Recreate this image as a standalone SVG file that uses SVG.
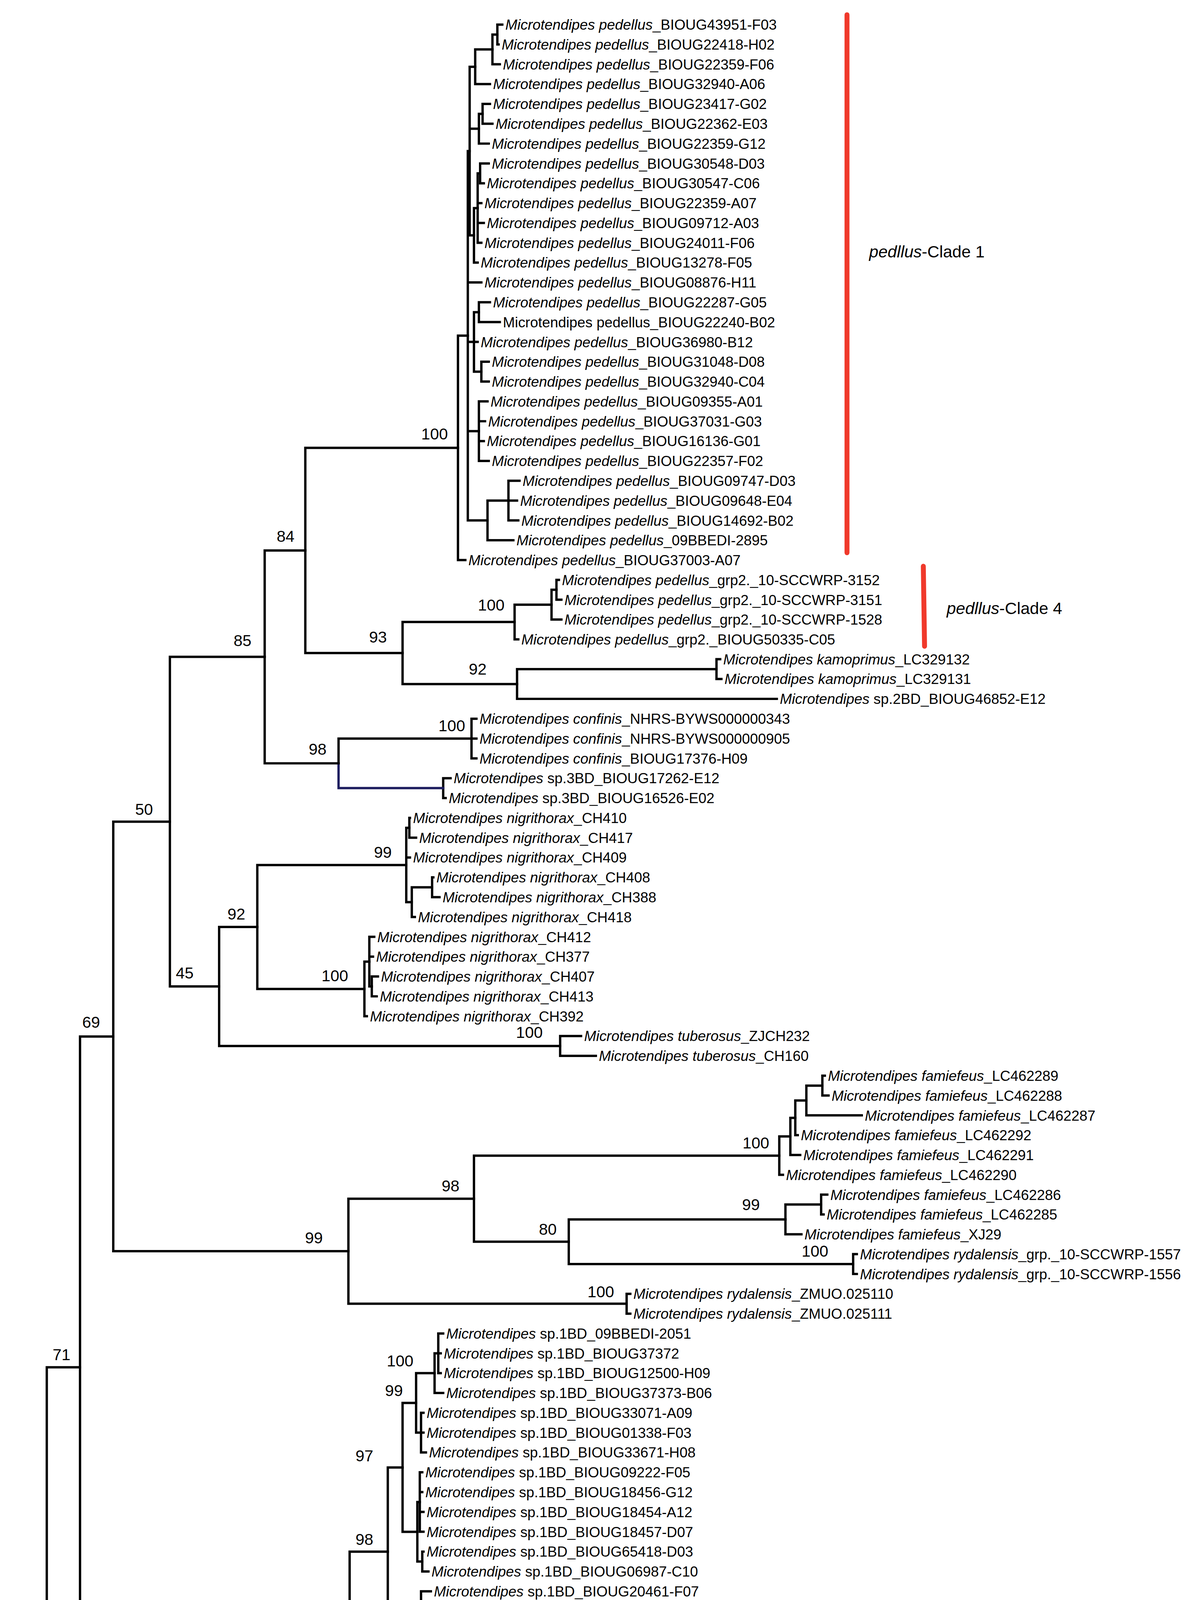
<svg xmlns="http://www.w3.org/2000/svg" width="3041" height="4945" viewBox="0 0 3041 4945">
<style>
.e{fill:none;stroke:#000;stroke-width:1.9;stroke-linecap:square}
.nv{fill:none;stroke:#1c1c5e;stroke-width:1.9;stroke-linecap:square}
.l{font-family:"Liberation Sans",Arial,sans-serif;font-size:11.7px;fill:#000}
.i{font-style:italic}
.s{font-family:"Liberation Sans",Arial,sans-serif;font-size:13px;fill:#000;text-anchor:middle}
.c{font-family:"Liberation Sans",Arial,sans-serif;font-size:13.5px;fill:#000}
.bar{stroke:#f0392b;stroke-width:4;stroke-linecap:round}
</style>
<rect width="3041" height="4945" fill="#fff"/>
<g transform="scale(3.1513)">
<g id="connectors">
<path class="e" d="M404,20V36.11M404,20H408M404,36.11H405"/>
<path class="e" d="M400,28.06V52.22M400,28.06H404M400,52.22H406"/>
<path class="e" d="M386,40.14V68.33M386,40.14H400M386,68.33H398"/>
<path class="e" d="M392,84.44V100.55M392,84.44H398M392,100.55H400"/>
<path class="e" d="M389,92.5V116.66M389,92.5H392M389,116.66H397"/>
<path class="e" d="M390,132.77V148.88M390,132.77H397M390,148.88H393"/>
<path class="e" d="M388,140.83V197.21M388,140.83H390M388,164.99H391M388,181.1H393M388,197.21H391"/>
<path class="e" d="M385,169.02V213.32M385,169.02H388M385,213.32H388"/>
<path class="e" d="M381.5,54.24V191.17M381.5,54.24H386M381.5,104.58H389M381.5,191.17H385"/>
<path class="e" d="M389,245.54V261.65M389,245.54H398M389,261.65H406"/>
<path class="e" d="M391,293.87V309.98M391,293.87H397M391,309.98H397"/>
<path class="e" d="M385,253.6V301.93M385,253.6H389M385,277.76H388M385,301.93H391"/>
<path class="e" d="M389,326.09V374.42M389,326.09H396M389,342.2H394M389,358.31H393M389,374.42H397"/>
<path class="e" d="M413,390.53V422.75M413,390.53H422M413,406.64H420M413,422.75H421"/>
<path class="e" d="M396,406.64V438.86M396,406.64H413M396,438.86H417"/>
<path class="e" d="M380,122.7V422.75M380,122.7H381.5M380,229.43H391M380,277.76H385M380,350.26H389M380,422.75H396"/>
<path class="e" d="M372,272.7V454.97M372,272.7H380M372,454.97H378"/>
<path class="e" d="M452,471.08V487.19M452,471.08H454M452,487.19H456"/>
<path class="e" d="M448,479.1V503.3M448,479.1H452M448,503.3H456"/>
<path class="e" d="M418,491.2V519.41M418,491.2H448M418,519.41H421"/>
<path class="e" d="M582,535.52V551.63M582,535.52H585M582,551.63H586"/>
<path class="e" d="M420,543.6V567.74M420,543.6H582M420,567.74H631"/>
<path class="e" d="M327,505.3V555.7M327,505.3H418M327,555.7H420"/>
<path class="e" d="M248,363.8V530.5M248,363.8H372M248,530.5H327"/>
<path class="e" d="M383,583.85V616.07M383,583.85H387M383,599.96H387M383,616.07H387"/>
<path class="e" d="M360,632.18V648.29M360,632.18H366M360,648.29H362"/>
<path class="e" d="M275,599.96V620.1M275,599.96H383"/>
<path class="nv" d="M275,620.1V640.2H360"/>
<path class="e" d="M215,447.2V620.1M215,447.2H248M215,620.1H275"/>
<path class="e" d="M332.5,664.4V680.51M332.5,664.4H333M332.5,680.51H338"/>
<path class="e" d="M351,712.73V728.84M351,712.73H352M351,728.84H357"/>
<path class="e" d="M334.5,720.8V744.95M334.5,720.8H351M334.5,744.95H337"/>
<path class="e" d="M330,672.5V732.9M330,672.5H332.5M330,696.62H333M330,732.9H334.5"/>
<path class="e" d="M302,793.28V809.39M302,793.28H307M302,809.39H306"/>
<path class="e" d="M300,761.06V801.3M300,761.06H304M300,777.17H303M300,801.3H302"/>
<path class="e" d="M296,781.2V825.5M296,781.2H300M296,825.5H298"/>
<path class="e" d="M209,702.7V803.4M209,702.7H330M209,803.4H296"/>
<path class="e" d="M455,841.61V857.72M455,841.61H472M455,857.72H484"/>
<path class="e" d="M178,753V849.7M178,753H209M178,849.7H455"/>
<path class="e" d="M138,533.6V801.3M138,533.6H215M138,801.3H178"/>
<path class="e" d="M668,873.83V889.94M668,873.83H670M668,889.94H673"/>
<path class="e" d="M655,881.9V906.05M655,881.9H668M655,906.05H700"/>
<path class="e" d="M646,894V922.16M646,894H655M646,922.16H648"/>
<path class="e" d="M642,908.1V938.27M642,908.1H646M642,938.27H650"/>
<path class="e" d="M633,923.2V954.38M633,923.2H642M633,954.38H636"/>
<path class="e" d="M667,970.49V986.6M667,970.49H672M667,986.6H669"/>
<path class="e" d="M638,978.5V1002.71M638,978.5H667M638,1002.71H651"/>
<path class="e" d="M693,1018.82V1034.93M693,1018.82H696M693,1034.93H696"/>
<path class="e" d="M462,990.6V1026.9M462,990.6H638M462,1026.9H693"/>
<path class="e" d="M385,938.8V1008.7M385,938.8H633M385,1008.7H462"/>
<path class="e" d="M509,1051.04V1067.15M509,1051.04H512M509,1067.15H512"/>
<path class="e" d="M283,973.8V1059.1M283,973.8H385M283,1059.1H509"/>
<path class="e" d="M92,667.5V1016.4M92,667.5H138M92,1016.4H283"/>
<path class="e" d="M356,1083.26V1115.48M356,1083.26H360M356,1099.37H358M356,1115.48H358"/>
<path class="e" d="M353,1099.4V1131.59M353,1099.4H356M353,1131.59H360"/>
<path class="e" d="M342,1147.7V1179.92M342,1147.7H344M342,1163.81H344M342,1179.92H346"/>
<path class="e" d="M338,1115.5V1163.8M338,1115.5H353M338,1163.8H342"/>
<path class="e" d="M341,1196.03V1244.36M341,1196.03H343M341,1212.14H343M341,1228.25H344M341,1244.36H344"/>
<path class="e" d="M343,1260.47V1276.58M343,1260.47H344M343,1276.58H348"/>
<path class="e" d="M339,1220.2V1268.5M339,1220.2H341M339,1268.5H343"/>
<path class="e" d="M327,1139.7V1244.4M327,1139.7H338M327,1244.4H339"/>
<path class="e" d="M342,1292.69V1324.91M342,1292.69H350M342,1308.8H346M342,1324.91H352"/>
<path class="e" d="M331,1341.02V1357.13M331,1341.02H334M331,1357.13H334"/>
<path class="e" d="M326,1308.8V1349.1M326,1308.8H342M326,1349.1H331"/>
<path class="e" d="M315,1192.1V1329M315,1192.1H327M315,1329H326"/>
<path class="e" d="M284,1260.5V1373.24M284,1260.5H315M284,1373.24H287"/>
<path class="e" d="M278,1316.9V1389.35M278,1316.9H284M278,1389.35H282"/>
<path class="e" d="M233,1353.1V1405.46M233,1353.1H278M233,1405.46H386"/>
<path class="e" d="M65,842V1379.3M65,842H92M65,1379.3H233"/>
<path class="e" d="M258,1421.57V1469.9M258,1421.57H287M258,1437.68H269M258,1453.79H269M258,1469.9H268"/>
<path class="e" d="M256,1445.7V1534.34M256,1445.7H258M256,1486.01H268M256,1502.12H267M256,1518.23H267M256,1534.34H266"/>
<path class="e" d="M232,1490V1550.45M232,1490H256M232,1550.45H261"/>
<path class="e" d="M38,1110.7V1520.2M38,1110.7H65M38,1520.2H232"/>
<path class="e" d="M8,1315.5V1558M8,1315.5H38"/>
</g>
<g id="support">
<text class="s" x="22" y="1310">53</text>
<text class="s" x="50" y="1105">71</text>
<text class="s" x="74" y="835">69</text>
<text class="s" x="117" y="662">50</text>
<text class="s" x="197" y="525">85</text>
<text class="s" x="232" y="440">84</text>
<text class="s" x="353" y="357">100</text>
<text class="s" x="307" y="522">93</text>
<text class="s" x="399" y="496">100</text>
<text class="s" x="388" y="548">92</text>
<text class="s" x="367" y="594">100</text>
<text class="s" x="258" y="613">98</text>
<text class="s" x="311" y="697">99</text>
<text class="s" x="192" y="747">92</text>
<text class="s" x="272" y="797">100</text>
<text class="s" x="150" y="795">45</text>
<text class="s" x="430" y="843">100</text>
<text class="s" x="614" y="933">100</text>
<text class="s" x="366" y="968">98</text>
<text class="s" x="610" y="983">99</text>
<text class="s" x="445" y="1003">80</text>
<text class="s" x="255" y="1010">99</text>
<text class="s" x="662" y="1021">100</text>
<text class="s" x="488" y="1054">100</text>
<text class="s" x="325" y="1110">100</text>
<text class="s" x="320" y="1134">99</text>
<text class="s" x="296" y="1187">97</text>
<text class="s" x="296" y="1255">98</text>
<text class="s" x="267" y="1310">92</text>
<text class="s" x="256" y="1346">98</text>
<text class="s" x="210" y="1373">100</text>
<text class="s" x="217" y="1515">100</text>
</g>
<g id="clade-bars">
<line class="bar" x1="688" y1="12" x2="688" y2="449"/>
<line class="bar" x1="750" y1="460" x2="751" y2="525"/>
<text class="c" x="706" y="209"><tspan class="i">pedllus</tspan>-Clade 1</text>
<text class="c" x="769" y="499"><tspan class="i">pedllus</tspan>-Clade 4</text>
</g>
<g id="leaves">
<g id="L0"><text class="l" x="410.5" y="24.2"><tspan class="i">Microtendipes pedellus</tspan>_BIOUG43951-F03</text></g>
<g id="L1"><text class="l" x="407.5" y="40.3"><tspan class="i">Microtendipes pedellus</tspan>_BIOUG22418-H02</text></g>
<g id="L2"><text class="l" x="408.5" y="56.4"><tspan class="i">Microtendipes pedellus</tspan>_BIOUG22359-F06</text></g>
<g id="L3"><text class="l" x="400.5" y="72.5"><tspan class="i">Microtendipes pedellus</tspan>_BIOUG32940-A06</text></g>
<g id="L4"><text class="l" x="400.5" y="88.6"><tspan class="i">Microtendipes pedellus</tspan>_BIOUG23417-G02</text></g>
<g id="L5"><text class="l" x="402.5" y="104.8"><tspan class="i">Microtendipes pedellus</tspan>_BIOUG22362-E03</text></g>
<g id="L6"><text class="l" x="399.5" y="120.9"><tspan class="i">Microtendipes pedellus</tspan>_BIOUG22359-G12</text></g>
<g id="L7"><text class="l" x="399.5" y="137"><tspan class="i">Microtendipes pedellus</tspan>_BIOUG30548-D03</text></g>
<g id="L8"><text class="l" x="395.5" y="153.1"><tspan class="i">Microtendipes pedellus</tspan>_BIOUG30547-C06</text></g>
<g id="L9"><text class="l" x="393.5" y="169.2"><tspan class="i">Microtendipes pedellus</tspan>_BIOUG22359-A07</text></g>
<g id="L10"><text class="l" x="395.5" y="185.3"><tspan class="i">Microtendipes pedellus</tspan>_BIOUG09712-A03</text></g>
<g id="L11"><text class="l" x="393.5" y="201.4"><tspan class="i">Microtendipes pedellus</tspan>_BIOUG24011-F06</text></g>
<g id="L12"><text class="l" x="390.5" y="217.5"><tspan class="i">Microtendipes pedellus</tspan>_BIOUG13278-F05</text></g>
<g id="L13"><text class="l" x="393.5" y="233.6"><tspan class="i">Microtendipes pedellus</tspan>_BIOUG08876-H11</text></g>
<g id="L14"><text class="l" x="400.5" y="249.7"><tspan class="i">Microtendipes pedellus</tspan>_BIOUG22287-G05</text></g>
<g id="L15"><text class="l" x="408.5" y="265.9">Microtendipes pedellus_BIOUG22240-B02</text></g>
<g id="L16"><text class="l" x="390.5" y="282"><tspan class="i">Microtendipes pedellus</tspan>_BIOUG36980-B12</text></g>
<g id="L17"><text class="l" x="399.5" y="298.1"><tspan class="i">Microtendipes pedellus</tspan>_BIOUG31048-D08</text></g>
<g id="L18"><text class="l" x="399.5" y="314.2"><tspan class="i">Microtendipes pedellus</tspan>_BIOUG32940-C04</text></g>
<g id="L19"><text class="l" x="398.5" y="330.3"><tspan class="i">Microtendipes pedellus</tspan>_BIOUG09355-A01</text></g>
<g id="L20"><text class="l" x="396.5" y="346.4"><tspan class="i">Microtendipes pedellus</tspan>_BIOUG37031-G03</text></g>
<g id="L21"><text class="l" x="395.5" y="362.5"><tspan class="i">Microtendipes pedellus</tspan>_BIOUG16136-G01</text></g>
<g id="L22"><text class="l" x="399.5" y="378.6"><tspan class="i">Microtendipes pedellus</tspan>_BIOUG22357-F02</text></g>
<g id="L23"><text class="l" x="424.5" y="394.7"><tspan class="i">Microtendipes pedellus</tspan>_BIOUG09747-D03</text></g>
<g id="L24"><text class="l" x="422.5" y="410.8"><tspan class="i">Microtendipes pedellus</tspan>_BIOUG09648-E04</text></g>
<g id="L25"><text class="l" x="423.5" y="427"><tspan class="i">Microtendipes pedellus</tspan>_BIOUG14692-B02</text></g>
<g id="L26"><text class="l" x="419.5" y="443.1"><tspan class="i">Microtendipes pedellus</tspan>_09BBEDI-2895</text></g>
<g id="L27"><text class="l" x="380.5" y="459.2"><tspan class="i">Microtendipes pedellus</tspan>_BIOUG37003-A07</text></g>
<g id="L28"><text class="l" x="456.5" y="475.3"><tspan class="i">Microtendipes pedellus</tspan>_grp2._10-SCCWRP-3152</text></g>
<g id="L29"><text class="l" x="458.5" y="491.4"><tspan class="i">Microtendipes pedellus</tspan>_grp2._10-SCCWRP-3151</text></g>
<g id="L30"><text class="l" x="458.5" y="507.5"><tspan class="i">Microtendipes pedellus</tspan>_grp2._10-SCCWRP-1528</text></g>
<g id="L31"><text class="l" x="423.5" y="523.6"><tspan class="i">Microtendipes pedellus</tspan>_grp2._BIOUG50335-C05</text></g>
<g id="L32"><text class="l" x="587.5" y="539.7"><tspan class="i">Microtendipes kamoprimus</tspan>_LC329132</text></g>
<g id="L33"><text class="l" x="588.5" y="555.8"><tspan class="i">Microtendipes kamoprimus</tspan>_LC329131</text></g>
<g id="L34"><text class="l" x="633.5" y="571.9"><tspan class="i">Microtendipes</tspan> sp.2BD_BIOUG46852-E12</text></g>
<g id="L35"><text class="l" x="389.5" y="588.1"><tspan class="i">Microtendipes confinis</tspan>_NHRS-BYWS000000343</text></g>
<g id="L36"><text class="l" x="389.5" y="604.2"><tspan class="i">Microtendipes confinis</tspan>_NHRS-BYWS000000905</text></g>
<g id="L37"><text class="l" x="389.5" y="620.3"><tspan class="i">Microtendipes confinis</tspan>_BIOUG17376-H09</text></g>
<g id="L38"><text class="l" x="368.5" y="636.4"><tspan class="i">Microtendipes</tspan> sp.3BD_BIOUG17262-E12</text></g>
<g id="L39"><text class="l" x="364.5" y="652.5"><tspan class="i">Microtendipes</tspan> sp.3BD_BIOUG16526-E02</text></g>
<g id="L40"><text class="l" x="335.5" y="668.6"><tspan class="i">Microtendipes nigrithorax</tspan>_CH410</text></g>
<g id="L41"><text class="l" x="340.5" y="684.7"><tspan class="i">Microtendipes nigrithorax</tspan>_CH417</text></g>
<g id="L42"><text class="l" x="335.5" y="700.8"><tspan class="i">Microtendipes nigrithorax</tspan>_CH409</text></g>
<g id="L43"><text class="l" x="354.5" y="716.9"><tspan class="i">Microtendipes nigrithorax</tspan>_CH408</text></g>
<g id="L44"><text class="l" x="359.5" y="733"><tspan class="i">Microtendipes nigrithorax</tspan>_CH388</text></g>
<g id="L45"><text class="l" x="339.5" y="749.2"><tspan class="i">Microtendipes nigrithorax</tspan>_CH418</text></g>
<g id="L46"><text class="l" x="306.5" y="765.3"><tspan class="i">Microtendipes nigrithorax</tspan>_CH412</text></g>
<g id="L47"><text class="l" x="305.5" y="781.4"><tspan class="i">Microtendipes nigrithorax</tspan>_CH377</text></g>
<g id="L48"><text class="l" x="309.5" y="797.5"><tspan class="i">Microtendipes nigrithorax</tspan>_CH407</text></g>
<g id="L49"><text class="l" x="308.5" y="813.6"><tspan class="i">Microtendipes nigrithorax</tspan>_CH413</text></g>
<g id="L50"><text class="l" x="300.5" y="829.7"><tspan class="i">Microtendipes nigrithorax</tspan>_CH392</text></g>
<g id="L51"><text class="l" x="474.5" y="845.8"><tspan class="i">Microtendipes tuberosus</tspan>_ZJCH232</text></g>
<g id="L52"><text class="l" x="486.5" y="861.9"><tspan class="i">Microtendipes tuberosus</tspan>_CH160</text></g>
<g id="L53"><text class="l" x="672.5" y="878"><tspan class="i">Microtendipes famiefeus</tspan>_LC462289</text></g>
<g id="L54"><text class="l" x="675.5" y="894.1"><tspan class="i">Microtendipes famiefeus</tspan>_LC462288</text></g>
<g id="L55"><text class="l" x="702.5" y="910.3"><tspan class="i">Microtendipes famiefeus</tspan>_LC462287</text></g>
<g id="L56"><text class="l" x="650.5" y="926.4"><tspan class="i">Microtendipes famiefeus</tspan>_LC462292</text></g>
<g id="L57"><text class="l" x="652.5" y="942.5"><tspan class="i">Microtendipes famiefeus</tspan>_LC462291</text></g>
<g id="L58"><text class="l" x="638.5" y="958.6"><tspan class="i">Microtendipes famiefeus</tspan>_LC462290</text></g>
<g id="L59"><text class="l" x="674.5" y="974.7"><tspan class="i">Microtendipes famiefeus</tspan>_LC462286</text></g>
<g id="L60"><text class="l" x="671.5" y="990.8"><tspan class="i">Microtendipes famiefeus</tspan>_LC462285</text></g>
<g id="L61"><text class="l" x="653.5" y="1006.9"><tspan class="i">Microtendipes famiefeus</tspan>_XJ29</text></g>
<g id="L62"><text class="l" x="698.5" y="1023"><tspan class="i">Microtendipes rydalensis</tspan>_grp._10-SCCWRP-1557</text></g>
<g id="L63"><text class="l" x="698.5" y="1039.1"><tspan class="i">Microtendipes rydalensis</tspan>_grp._10-SCCWRP-1556</text></g>
<g id="L64"><text class="l" x="514.5" y="1055.2"><tspan class="i">Microtendipes rydalensis</tspan>_ZMUO.025110</text></g>
<g id="L65"><text class="l" x="514.5" y="1071.4"><tspan class="i">Microtendipes rydalensis</tspan>_ZMUO.025111</text></g>
<g id="L66"><text class="l" x="362.5" y="1087.5"><tspan class="i">Microtendipes</tspan> sp.1BD_09BBEDI-2051</text></g>
<g id="L67"><text class="l" x="360.5" y="1103.6"><tspan class="i">Microtendipes</tspan> sp.1BD_BIOUG37372</text></g>
<g id="L68"><text class="l" x="360.5" y="1119.7"><tspan class="i">Microtendipes</tspan> sp.1BD_BIOUG12500-H09</text></g>
<g id="L69"><text class="l" x="362.5" y="1135.8"><tspan class="i">Microtendipes</tspan> sp.1BD_BIOUG37373-B06</text></g>
<g id="L70"><text class="l" x="346.5" y="1151.9"><tspan class="i">Microtendipes</tspan> sp.1BD_BIOUG33071-A09</text></g>
<g id="L71"><text class="l" x="346.5" y="1168"><tspan class="i">Microtendipes</tspan> sp.1BD_BIOUG01338-F03</text></g>
<g id="L72"><text class="l" x="348.5" y="1184.1"><tspan class="i">Microtendipes</tspan> sp.1BD_BIOUG33671-H08</text></g>
<g id="L73"><text class="l" x="345.5" y="1200.2"><tspan class="i">Microtendipes</tspan> sp.1BD_BIOUG09222-F05</text></g>
<g id="L74"><text class="l" x="345.5" y="1216.3"><tspan class="i">Microtendipes</tspan> sp.1BD_BIOUG18456-G12</text></g>
<g id="L75"><text class="l" x="346.5" y="1232.5"><tspan class="i">Microtendipes</tspan> sp.1BD_BIOUG18454-A12</text></g>
<g id="L76"><text class="l" x="346.5" y="1248.6"><tspan class="i">Microtendipes</tspan> sp.1BD_BIOUG18457-D07</text></g>
<g id="L77"><text class="l" x="346.5" y="1264.7"><tspan class="i">Microtendipes</tspan> sp.1BD_BIOUG65418-D03</text></g>
<g id="L78"><text class="l" x="350.5" y="1280.8"><tspan class="i">Microtendipes</tspan> sp.1BD_BIOUG06987-C10</text></g>
<g id="L79"><text class="l" x="352.5" y="1296.9"><tspan class="i">Microtendipes</tspan> sp.1BD_BIOUG20461-F07</text></g>
<g id="L80"><text class="l" x="348.5" y="1313"><tspan class="i">Microtendipes</tspan> sp.1BD_BIOUG34831-D05</text></g>
<g id="L81"><text class="l" x="354.5" y="1329.1"><tspan class="i">Microtendipes</tspan> sp.1BD_BIOUG34663-F07</text></g>
<g id="L82"><text class="l" x="336.5" y="1345.2"><tspan class="i">Microtendipes</tspan> sp.1BD_BIOUG20486-G07</text></g>
<g id="L83"><text class="l" x="336.5" y="1361.3"><tspan class="i">Microtendipes</tspan> sp.1BD_BIOUG03125-E12</text></g>
<g id="L84"><text class="l" x="289.5" y="1377.4"><tspan class="i">Microtendipes</tspan> sp.1BD_BIOUG20460-D05</text></g>
<g id="L85"><text class="l" x="284.5" y="1393.6"><tspan class="i">Microtendipes</tspan> sp.1BDDNAS-49C-6ERW_MT159584</text></g>
<g id="L86"><text class="l" x="388.5" y="1409.7"><tspan class="i">Microtendipes</tspan> sp.1BD_INVSJ16L151</text></g>
<g id="L87"><text class="l" x="289.5" y="1425.8"><tspan class="i">Microtendipes wuyiensis</tspan>_ZJCH382</text></g>
<g id="L88"><text class="l" x="271.5" y="1441.9"><tspan class="i">Microtendipes wuyisensis</tspan>_ZJCH396</text></g>
<g id="L89"><text class="l" x="271.5" y="1458"><tspan class="i">Microtendipes wuyisensis</tspan>_ZJCH259</text></g>
<g id="L90"><text class="l" x="270.5" y="1474.1"><tspan class="i">Microtendipes wuyisensis</tspan>_ZJCH406</text></g>
<g id="L91"><text class="l" x="270.5" y="1490.2"><tspan class="i">Microtendipes wuyisensis</tspan>_ZJCH129</text></g>
<g id="L92"><text class="l" x="269.5" y="1506.3"><tspan class="i">Microtendipes wuyisensis</tspan>_ZJCH285</text></g>
<g id="L93"><text class="l" x="269.5" y="1522.4"><tspan class="i">Microtendipes wuyisensis</tspan>_ZJCH385</text></g>
<g id="L94"><text class="l" x="268.5" y="1538.5"><tspan class="i">Microtendipes wuyisensis</tspan>_ZJCH395</text></g>
<g id="L95"><text class="l" x="263.5" y="1554.7"><tspan class="i">Microtendipes wuyiensis</tspan>_ZJCH361</text></g>
</g>
</g>
</svg>
